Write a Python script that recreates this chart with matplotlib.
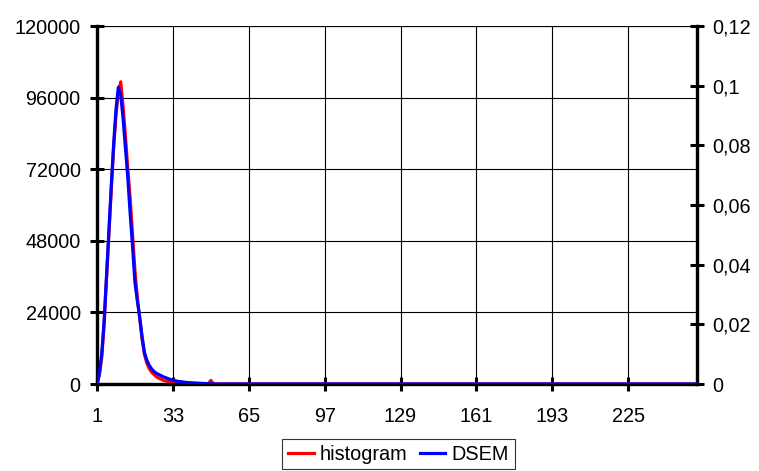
import matplotlib
matplotlib.use("Agg")
import matplotlib.pyplot as plt
from matplotlib.ticker import FixedLocator, FuncFormatter

plt.rcParams['font.family'] = ['Liberation Sans', 'DejaVu Sans']

# bins 1..254
n_bins = 254
bins = list(range(1, n_bins + 1))

# histogram counts (bins 1..50), zero afterwards
hist_head = [0, 3000, 9000, 20000, 35000, 50000, 65000, 79000, 90000, 98000,
             101300, 93000, 83000, 72000, 62000, 50000, 38000, 29000, 22000, 15000,
             10000, 7000, 5200, 4000, 3200, 2500, 2000, 1600, 1200, 1000,
             800, 650, 520, 420, 340, 280, 230, 190, 160, 130,
             110, 90, 75, 60, 50, 40, 35, 150, 1200, 100]
histogram = hist_head + [0] * (n_bins - len(hist_head))

# DSEM probabilities (bins 1..50), zero afterwards
dsem_head = [0, 0.0035, 0.010, 0.021, 0.036, 0.051, 0.066, 0.080, 0.092, 0.0995,
             0.097, 0.089, 0.079, 0.069, 0.057, 0.046, 0.034, 0.028, 0.0225, 0.016,
             0.0105, 0.008, 0.0063, 0.0051, 0.0042, 0.0036, 0.0032, 0.0028, 0.0024, 0.0021,
             0.0018, 0.0015, 0.0013, 0.0011, 0.0009, 0.0008, 0.0007, 0.0006, 0.0005, 0.00045,
             0.0004, 0.00035, 0.0003, 0.00025, 0.0002, 0.00017, 0.00014, 0.00012, 0.0001, 0.00008]
dsem = dsem_head + [0] * (n_bins - len(dsem_head))

x_ticks = [1, 33, 65, 97, 129, 161, 193, 225]
left_ticks = [0, 24000, 48000, 72000, 96000, 120000]
right_ticks = [0, 0.02, 0.04, 0.06, 0.08, 0.1, 0.12]

FS = 14.3

fig = plt.figure(figsize=(7.59, 4.71), dpi=100)
ax = fig.add_axes([97 / 759, 1 - 384 / 471, (697 - 97) / 759, (384 - 26) / 471])
ax2 = ax.twinx()

l1, = ax.plot(bins, histogram, color='#ff0000', lw=2.3, solid_joinstyle='round', zorder=3)
l2, = ax2.plot(bins, dsem, color='#0000ff', lw=2.3, solid_joinstyle='round', zorder=3)

ax.set_xlim(1, 254)
ax.set_ylim(0, 120000)
ax2.set_ylim(0, 0.12)

ax.xaxis.set_major_locator(FixedLocator(x_ticks))
ax.yaxis.set_major_locator(FixedLocator(left_ticks))
ax2.yaxis.set_major_locator(FixedLocator(right_ticks))
ax2.yaxis.set_major_formatter(FuncFormatter(lambda v, p: ('%g' % v).replace('.', ',')))

ax.grid(True, color='black', lw=0.8)
ax.set_axisbelow(True)

for a in (ax, ax2):
    a.spines['top'].set_visible(False)
    for s in ('left', 'right', 'bottom'):
        a.spines[s].set_linewidth(2.3)
    a.tick_params(direction='inout', length=10.5, width=2.2, labelsize=FS, colors='black')
ax.tick_params(axis='y', pad=6.5)
ax.tick_params(axis='x', pad=11)
ax2.tick_params(axis='y', pad=6)

# top gridline
ax.axhline(120000, color='black', lw=0.8, zorder=1)

ax2.set_zorder(ax.get_zorder() + 1)
ax2.patch.set_visible(False)

leg = fig.legend([l1, l2], ['histogram', 'DSEM'], loc='center',
                 bbox_to_anchor=(398.5 / 759, 1 - 454 / 471), ncol=2,
                 frameon=True, fancybox=False, edgecolor='black', fontsize=FS,
                 handlelength=1.3, handletextpad=0.3, columnspacing=0.6,
                 borderpad=0.3, borderaxespad=0)
leg.get_frame().set_linewidth(0.8)

fig.savefig('out.png', dpi=100)
